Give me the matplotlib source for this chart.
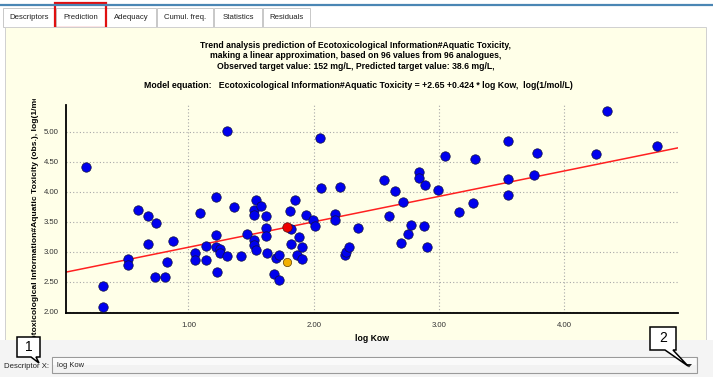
import numpy as np
import matplotlib.pyplot as plt
from matplotlib.patches import Rectangle, Polygon
from matplotlib.transforms import Bbox

plt.rcParams['font.family'] = ['Liberation Sans', 'DejaVu Sans']

# analogues: log Kow vs observed toxicity, log(1/mol/L)
log_kow = [0.18, 0.32, 0.32, 0.52, 0.52, 0.60, 0.68, 0.68, 0.74, 0.73,
           0.81, 0.83, 0.88, 1.05, 1.05, 1.09, 1.14, 1.14, 1.22, 1.22,
           1.22, 1.23, 1.25, 1.25, 1.31, 1.31, 1.36, 1.42, 1.47, 1.52,
           1.52, 1.52, 1.52, 1.54, 1.54, 1.58, 1.62, 1.62, 1.62, 1.63,
           1.68, 1.70, 1.72, 1.72, 1.81, 1.82, 1.82, 1.85, 1.87, 1.88,
           1.91, 1.91, 1.94, 1.99, 2.01, 2.05, 2.06, 2.17, 2.17, 2.21,
           2.25, 2.26, 2.28, 2.35, 2.56, 2.60, 2.65, 2.70, 2.71, 2.75,
           2.78, 2.84, 2.84, 2.88, 2.89, 2.90, 2.99, 3.05, 3.16, 3.27,
           3.29, 3.55, 3.55, 3.55, 3.76, 3.78, 4.25, 4.34, 4.74]
tox_obs = [4.41, 2.43, 2.07, 2.88, 2.78, 3.70, 3.59, 3.13, 3.48, 2.57,
           2.57, 2.82, 3.17, 2.97, 2.86, 3.65, 3.10, 2.86, 3.91, 3.27,
           3.08, 2.66, 3.04, 2.97, 2.93, 5.01, 3.75, 2.92, 3.29, 3.70,
           3.61, 3.20, 3.11, 3.86, 3.02, 3.76, 3.60, 3.39, 3.26, 2.98,
           2.63, 2.89, 2.95, 2.53, 3.67, 3.37, 3.13, 3.86, 2.94, 3.24,
           3.08, 2.87, 3.61, 3.52, 3.42, 4.89, 4.06, 3.62, 3.52, 4.07,
           2.94, 3.00, 3.07, 3.39, 4.20, 3.59, 4.01, 3.15, 3.82, 3.30,
           3.45, 4.33, 4.22, 3.42, 4.11, 3.08, 4.03, 4.60, 3.66, 3.81,
           4.54, 4.84, 4.21, 3.95, 4.27, 4.64, 4.63, 5.34, 4.76]

target_kow = 1.79
target_obs = 2.82
intercept, slope = 2.65, 0.424

tabs = ['Descriptors', 'Prediction', 'Adequacy', 'Cumul. freq.', 'Statistics', 'Residuals']
tab_edges = [3, 56, 106, 157, 214, 263, 311]

W, H = 713, 377
fig = plt.figure(figsize=(W / 100, H / 100), dpi=100)
fig.patch.set_facecolor('white')

# pixel-space layer for the window chrome
ui = fig.add_axes([0, 0, 1, 1], zorder=0)
ui.set_xlim(0, W)
ui.set_ylim(H, 0)
ui.axis('off')

panel = '#FFFFE8'
ui.add_patch(Rectangle((0, 0), W, 27, fc='white', ec='none'))
ui.plot([0, W], [4.5, 4.5], color='#4A86B4', lw=1.6)
for i, name in enumerate(tabs):
    x0, x1 = tab_edges[i], tab_edges[i + 1] - 1
    ui.add_patch(Rectangle((x0, 8), x1 - x0, 19, fc='white', ec='#C8C8C8', lw=0.7))
    ui.text((x0 + x1) / 2, 17.5, name, fontsize=5.6, ha='center', va='center', color='#222222')
ui.add_patch(Rectangle((55, 3), 51, 25, fc='none', ec='#E01010', lw=1.6))

ui.add_patch(Rectangle((5, 27), 701, 313, fc=panel, ec='#D0D0D0', lw=0.7))
ui.add_patch(Rectangle((0, 340), W, 37, fc='#F4F4F4', ec='none'))

# combobox
ui.add_patch(Rectangle((52, 357), 645, 16, fc='#F2F2F2', ec='#9A9A9A', lw=0.8))
ui.add_patch(Rectangle((53, 358), 643, 7, fc='#FAFAFA', ec='none'))
ui.text(4, 366, 'Descriptor X:', fontsize=5.6, ha='left', va='center', color='#222222')
ui.text(57, 365.5, 'log Kow', fontsize=5.4, ha='left', va='center', color='#222222')
ui.add_patch(Polygon([[686, 364], [692, 364], [689, 367.5]], closed=True, fc='#222222', ec='none'))

# callouts
ui.add_patch(Polygon([[17, 337], [40, 337], [40, 357], [36, 357], [39, 363], [31, 357], [17, 357]],
                     closed=True, fc='white', ec='black', lw=1.1, zorder=5))
ui.text(28.5, 347, '1', fontsize=10, ha='center', va='center', zorder=6)
ui.add_patch(Polygon([[650, 327], [676, 327], [676, 350], [673, 350], [688, 366], [665, 350], [650, 350]],
                     closed=True, fc='white', ec='black', lw=1.1, zorder=5))
ui.text(663, 338.5, '2', fontsize=10, ha='center', va='center', zorder=6)

# titles
ui.text(356, 56, 'Trend analysis prediction of Ecotoxicological Information#Aquatic Toxicity,\n'
        'making a linear approximation, based on 96 values from 96 analogues,\n'
        'Observed target value: 152 mg/L, Predicted target value: 38.6 mg/L,',
        fontsize=6.2, fontweight='bold', ha='center', va='center', linespacing=1.2)
ui.text(358, 85, 'Model equation:   Ecotoxicological Information#Aquatic Toxicity = +2.65 +0.424 * log Kow,  log(1/mol/L)',
        fontsize=6.3, fontweight='bold', ha='center', va='center')

# y label is wider than the panel and gets cut at both ends, as in the app
ylab = ui.text(36, 216, 'Ecotoxicological Information#Aquatic Toxicity (obs.), log(1/mol/L)',
               fontsize=6.1, fontweight='bold', rotation=90, ha='center', va='center')
ylab.set_clip_box(Bbox.from_extents(5, H - 339, 65, H - 99))
ylab.set_clip_on(True)

# scatter plot
ax = fig.add_axes([65.7 / W, 1 - 313.3 / H, 612 / W, 208.3 / H], zorder=1)
ax.set_facecolor(panel)
ax.set_xlim(0.02, 4.905)
ax.set_ylim(1.973, 5.445)
ax.set_xticks([1, 2, 3, 4])
ax.set_yticks([2, 2.5, 3, 3.5, 4, 4.5, 5])
ax.set_xticklabels([f'{v:.2f}' for v in ax.get_xticks()])
ax.set_yticklabels([f'{v:.2f}' for v in ax.get_yticks()])
ax.tick_params(length=0, labelsize=5.6, labelcolor='#333333', pad=5)
ax.tick_params(axis='x', pad=6)
ax.grid(True, color='#A8A8A8', ls=(0, (1, 2)), lw=0.8)
ax.set_axisbelow(True)
for s in ['top', 'right']:
    ax.spines[s].set_visible(False)
ax.spines['left'].set_linewidth(1.3)
ax.spines['bottom'].set_linewidth(1.3)
ax.set_xlabel('log Kow', fontsize=6.2, fontweight='bold', labelpad=4)

xl = np.array(ax.get_xlim())
ax.plot(xl, intercept + slope * xl, color='#FF2020', lw=1.1, zorder=2)
ax.scatter(log_kow, tox_obs, s=46, c='#0000EE', edgecolors='#101040', linewidths=0.5, zorder=3)
ax.scatter([target_kow], [intercept + slope * target_kow], s=46, c='#EE0000',
           edgecolors='#501010', linewidths=0.5, zorder=4)
ax.scatter([target_kow], [target_obs], s=36, c='#F2B000', edgecolors='#604000', linewidths=0.5, zorder=4)

fig.savefig('out.png', dpi=100)
